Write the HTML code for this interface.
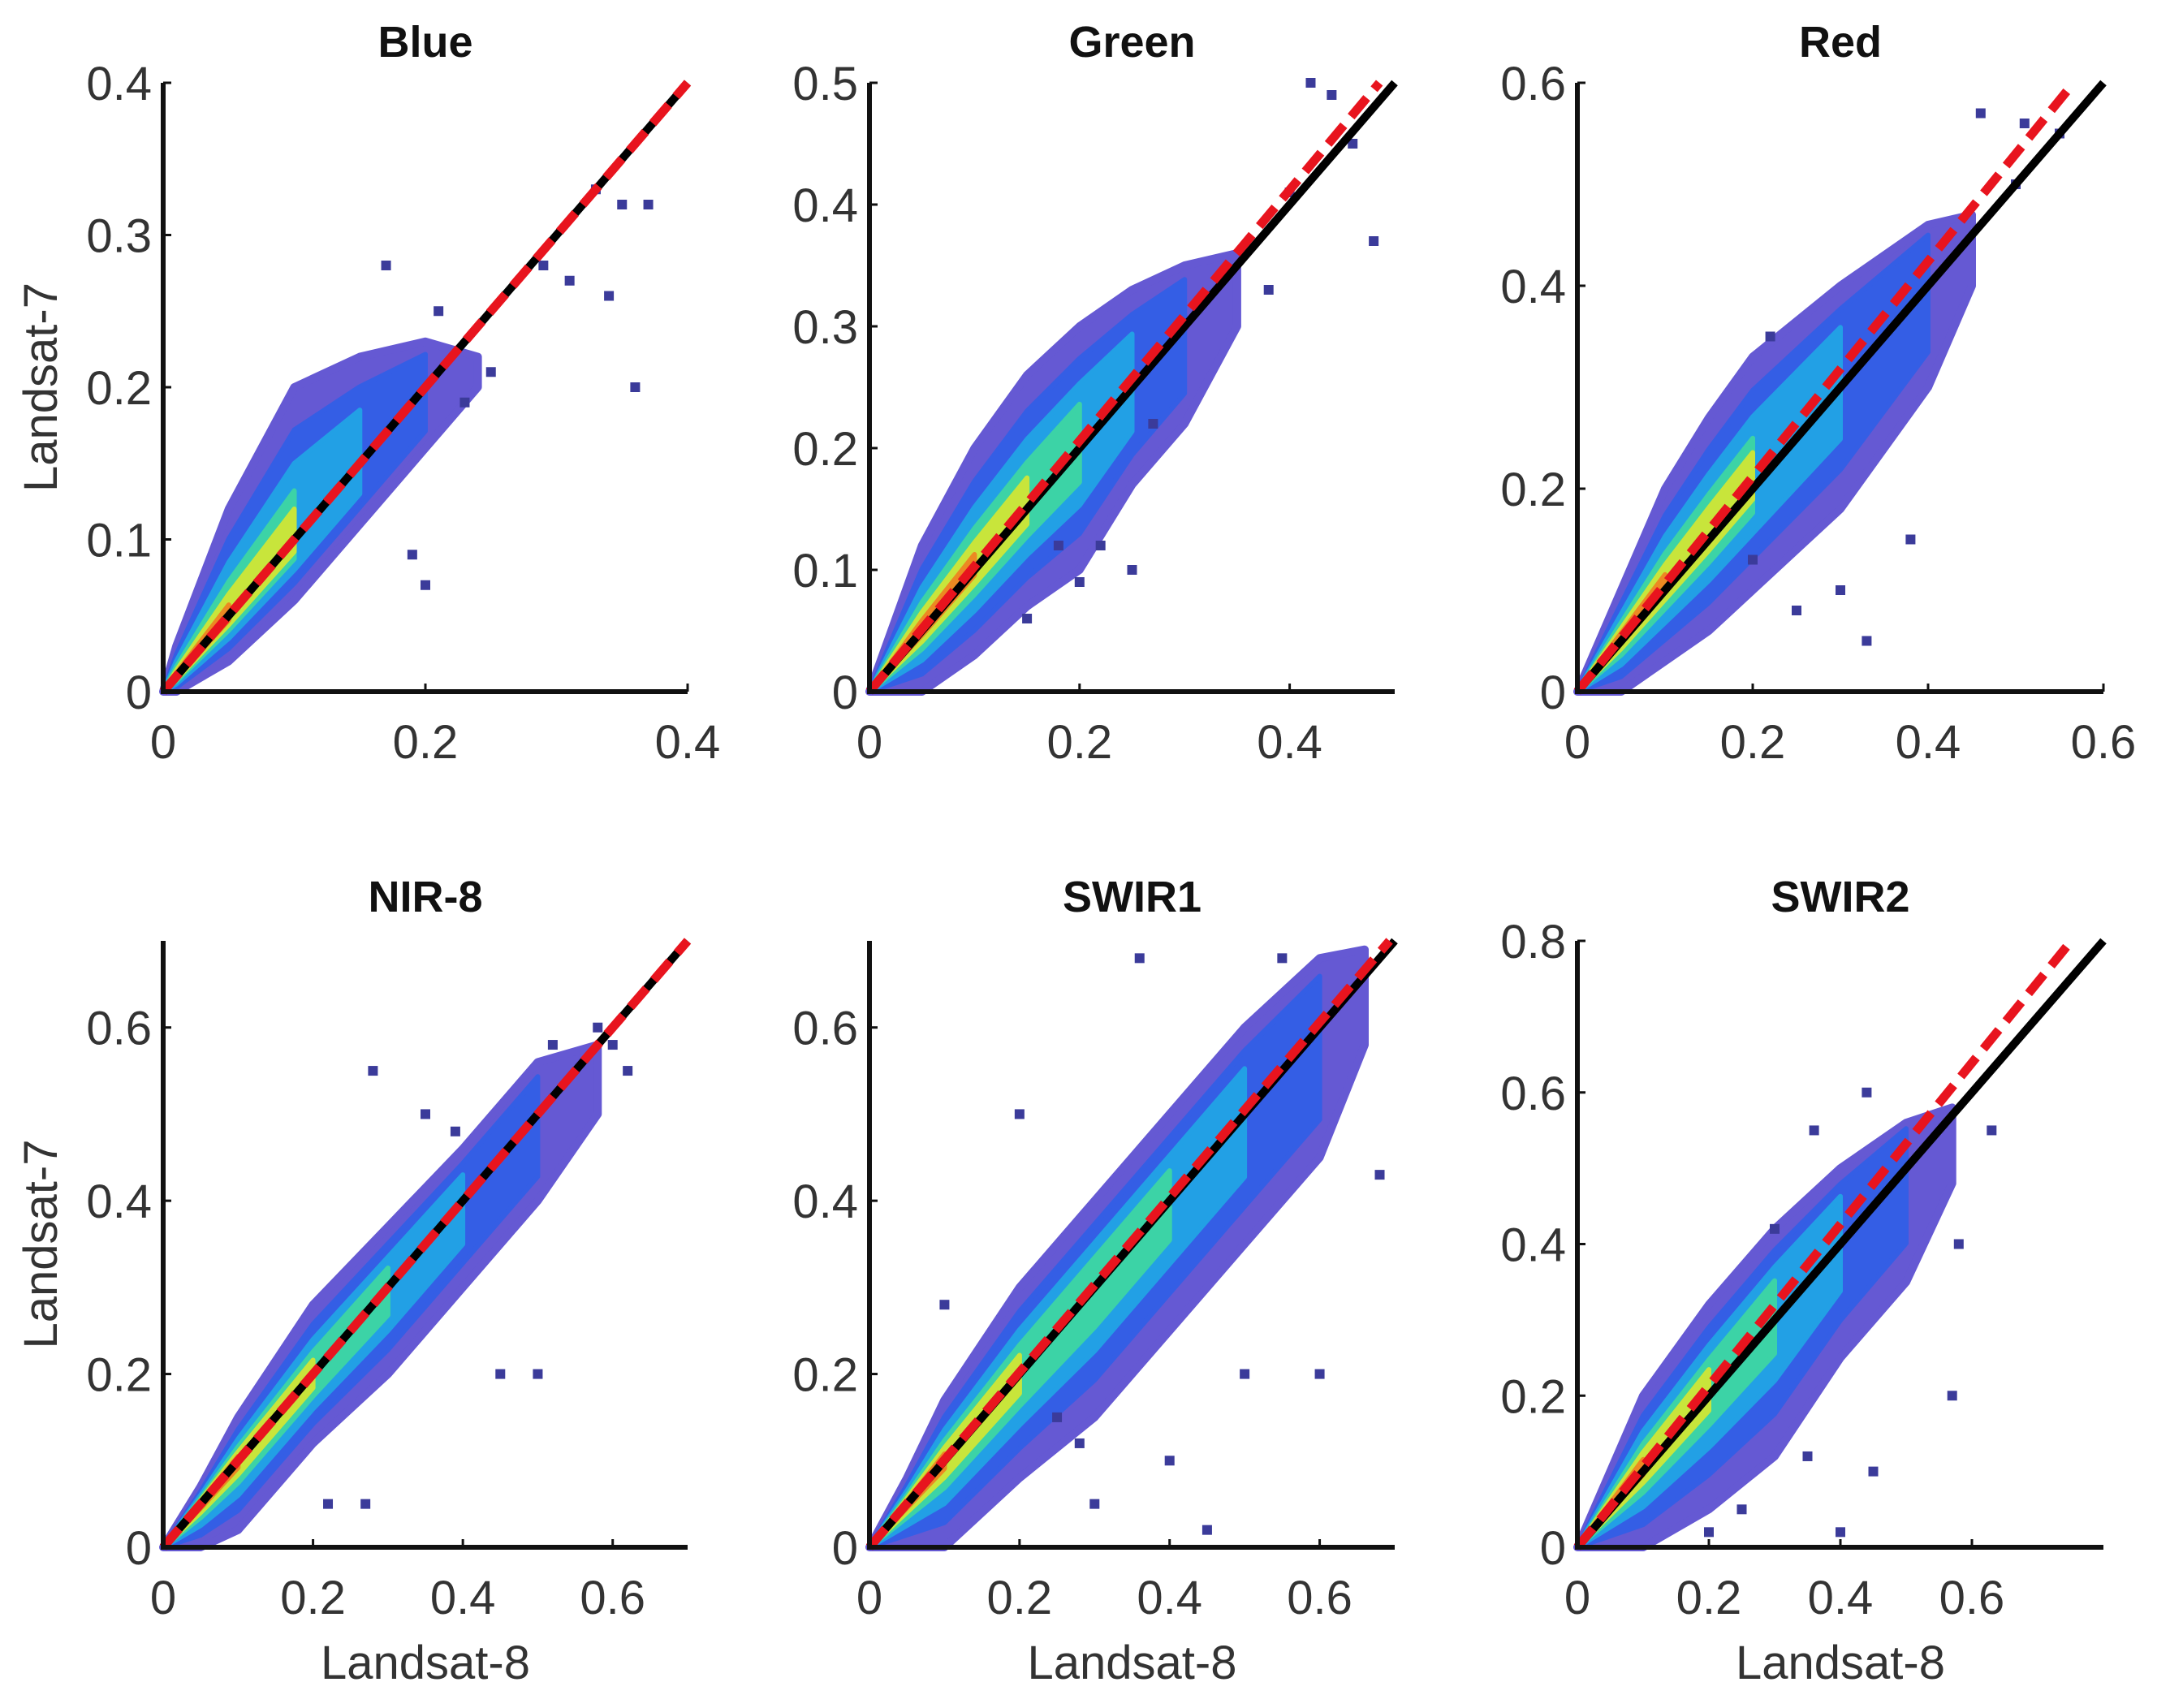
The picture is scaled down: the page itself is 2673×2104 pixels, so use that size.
<!DOCTYPE html>
<html><head><meta charset="utf-8">
<style>
html,body{margin:0;padding:0;background:#fff;}
svg{display:block;}
text{font-family:"Liberation Sans",Arial,sans-serif;}
</style></head>
<body>
<svg id="fig" width="2673" height="2104" viewBox="0 0 2673 2104" xmlns="http://www.w3.org/2000/svg"></svg>
<script>
// ---- data ----
const panelTitles = ["Blue","Green","Red","NIR-8","SWIR1","SWIR2"];
const axisMax = [0.4,0.5,0.6,0.7,0.7,0.8];
const xTickVals = [[0,0.2,0.4],[0,0.2,0.4],[0,0.2,0.4,0.6],[0,0.2,0.4,0.6],[0,0.2,0.4,0.6],[0,0.2,0.4,0.6]];
const yTickVals = [[0,0.1,0.2,0.3,0.4],[0,0.1,0.2,0.3,0.4,0.5],[0,0.2,0.4,0.6],[0,0.2,0.4,0.6],[0,0.2,0.4,0.6],[0,0.2,0.4,0.6,0.8]];
const fitSlope = [1.0,1.03,1.06,1.0,1.01,1.065];
const cloudX = [
 [0,0.01,0.05,0.1,0.15,0.2,0.24],
 [0,0.05,0.1,0.15,0.2,0.25,0.3,0.35],
 [0,0.05,0.1,0.15,0.2,0.3,0.4,0.45],
 [0,0.05,0.1,0.2,0.3,0.4,0.5,0.58],
 [0,0.05,0.1,0.2,0.3,0.4,0.5,0.6,0.66],
 [0,0.05,0.1,0.2,0.3,0.4,0.5,0.57]];
const cloudHi = [
 [0,0.03,0.12,0.2,0.22,0.23,0.22],
 [0,0.12,0.2,0.26,0.3,0.33,0.35,0.36],
 [0,0.1,0.2,0.27,0.33,0.4,0.46,0.47],
 [0,0.07,0.15,0.28,0.37,0.46,0.56,0.58],
 [0,0.08,0.17,0.3,0.4,0.5,0.6,0.68,0.69],
 [0,0.1,0.2,0.32,0.42,0.5,0.56,0.58]];
const cloudLo = [
 [0,0,0.02,0.06,0.11,0.16,0.2],
 [0,0,0.03,0.07,0.1,0.17,0.22,0.3],
 [0,0,0.03,0.06,0.1,0.18,0.3,0.4],
 [0,0,0.02,0.12,0.2,0.3,0.4,0.5],
 [0,0,0,0.08,0.15,0.25,0.35,0.45,0.58],
 [0,0,0,0.05,0.12,0.25,0.35,0.48]];
const outX = [
 [0.17,0.33,0.35,0.37,0.36,0.31,0.34,0.23,0.25,0.29,0.21,0.19,0.2],
 [0.42,0.44,0.46,0.4,0.48,0.38,0.27,0.22,0.18,0.25,0.15,0.2],
 [0.46,0.51,0.55,0.5,0.2,0.3,0.33,0.38,0.22,0.25],
 [0.28,0.35,0.39,0.5,0.52,0.58,0.6,0.62,0.27,0.22,0.45],
 [0.1,0.2,0.3,0.36,0.45,0.6,0.68,0.28,0.25,0.55,0.4,0.5],
 [0.3,0.36,0.44,0.58,0.57,0.2,0.25,0.4,0.63,0.45,0.35]];
const outY = [
 [0.28,0.33,0.32,0.32,0.2,0.27,0.26,0.19,0.21,0.28,0.25,0.09,0.07],
 [0.5,0.49,0.45,0.41,0.37,0.33,0.22,0.12,0.12,0.1,0.06,0.09],
 [0.57,0.56,0.55,0.5,0.13,0.1,0.05,0.15,0.35,0.08],
 [0.55,0.5,0.48,0.2,0.58,0.6,0.58,0.55,0.05,0.05,0.2],
 [0.28,0.5,0.05,0.68,0.02,0.2,0.43,0.12,0.15,0.68,0.1,0.2],
 [0.42,0.55,0.6,0.4,0.2,0.02,0.05,0.02,0.55,0.1,0.12]];

// ---- layout ----
const colX0=[201,1071,1943], colX1=[847,1718,2591];
const rowY0=[852,1906], rowY1=[102,1159];
const NS="http://www.w3.org/2000/svg";
const svg=document.getElementById('fig');
function mk(tag,attrs,parent){const e=document.createElementNS(NS,tag);for(const k in attrs)e.setAttribute(k,attrs[k]);(parent||svg).appendChild(e);return e;}

const layerF=[1,0.72,0.5,0.32,0.2,0.1];
const layerL=[1,0.97,0.8,0.62,0.45,0.3];
const layerC=["#4b3dcc","#2f5fe8","#21a8e6","#3fd9a0","#d8e830","#f08020"];

for(let p=0;p<6;p++){
  const c=p%3,r=Math.floor(p/3);
  const x0=colX0[c],x1=colX1[c],yb=rowY0[r],yt=rowY1[r],m=axisMax[p];
  const sx=v=>x0+(x1-x0)*v/m, sy=v=>yb-(yb-yt)*v/m;
  const g=mk('g',{});
  
  
  const xs=cloudX[p],hi=cloudHi[p],lo=cloudLo[p],n=xs.length;
  const xmax=xs[n-1];
  for(let L=0;L<layerF.length;L++){
    const f=layerF[L],lim=xmax*layerL[L];
    const top=[],bot=[];
    for(let i=0;i<n;i++){
      if(xs[i]>lim)break;
      const cen=xs[i]*fitSlope[p];
      top.push([sx(xs[i]),sy(cen+f*(hi[i]-cen))]);
      bot.push([sx(xs[i]),sy(cen+f*(lo[i]-cen))]);
    }
    if(top.length<2)continue;
    const pts=top.concat(bot.reverse()).map(q=>q[0].toFixed(1)+','+q[1].toFixed(1)).join(' ');
    const poly=mk('polygon',{points:pts,fill:layerC[L],opacity:L==0?0.85:0.9,'stroke':layerC[L],'stroke-width':L==0?10:6,'stroke-linejoin':'round'},g);
    
    
  }
  for(let i=0;i<outX[p].length;i++){
    const d=mk('rect',{x:sx(outX[p][i])-6,y:sy(outY[p][i])-6,width:12,height:12,fill:'#3b3b9a'},g);
    
    
  }
  const l1=mk('line',{x1:sx(0),y1:sy(0),x2:sx(m),y2:sy(m),stroke:'#000','stroke-width':10},g);
  
  
  const xe=Math.min(m,m/fitSlope[p]);
  const l2=mk('line',{x1:sx(0),y1:sy(0),x2:sx(xe),y2:sy(xe*fitSlope[p]),stroke:'#e8141e','stroke-width':11,'stroke-dasharray':'30 14'},g);
  
  
  const ax=mk('path',{d:`M${x0},${yt} L${x0},${yb} L${x1},${yb}`,fill:'none',stroke:'#111','stroke-width':6},g);
  
  
  for(const v of xTickVals[p]){
    mk('line',{x1:sx(v),y1:yb,x2:sx(v),y2:yb-10,stroke:'#111','stroke-width':3},g);
    const t=mk('text',{x:sx(v),y:yb+82,'font-size':58,'text-anchor':'middle',fill:'#333'},g);
    t.textContent=String(v);
    
    
  }
  for(const v of yTickVals[p]){
    mk('line',{x1:x0,y1:sy(v),x2:x0+10,y2:sy(v),stroke:'#111','stroke-width':3},g);
    const t=mk('text',{x:x0-14,y:sy(v)+21,'font-size':58,'text-anchor':'end',fill:'#333'},g);
    t.textContent=String(v);
    
    
  }
  const tt=mk('text',{x:(x0+x1)/2,y:r==0?70:1123,'font-size':54,'font-weight':'bold','text-anchor':'middle',fill:'#111'},g);
  tt.textContent=panelTitles[p];
  
  
  if(c==0){
    const yl=mk('text',{x:0,y:0,'font-size':58,'text-anchor':'middle',fill:'#333',transform:`translate(70,${(yt+yb)/2}) rotate(-90)`},g);
    yl.textContent='Landsat-7';
    
    
  }
  if(r==1){
    const xl=mk('text',{x:(x0+x1)/2,y:2068,'font-size':58,'text-anchor':'middle',fill:'#333'},g);
    xl.textContent='Landsat-8';
    
    
  }
}
</script>
</body></html>
